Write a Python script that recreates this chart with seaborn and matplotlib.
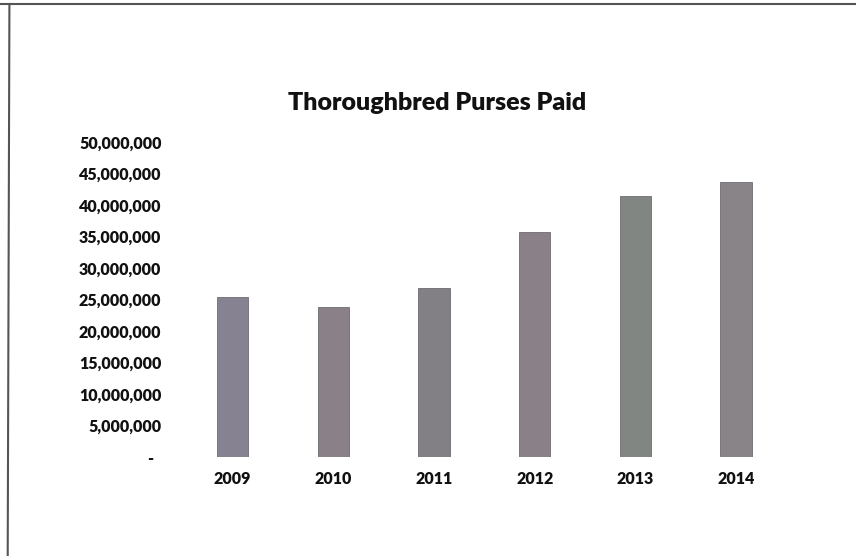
import matplotlib
matplotlib.use("Agg")
import matplotlib.pyplot as plt
import matplotlib.ticker as mticker
from matplotlib.lines import Line2D
import pandas as pd
import seaborn as sns

# values
years = ["2009", "2010", "2011", "2012", "2013", "2014"]
purses = [25350000, 23860000, 26870000, 35760000, 41430000, 43600000]
bar_colors = ["#857f93", "#8b7f88", "#827f86", "#8a8088", "#818781", "#8a8389"]

df = pd.DataFrame({"year": years, "purses": purses})

sns.set_style("white")
plt.rcParams["font.family"] = ["Lato", "DejaVu Sans"]

fig = plt.figure(figsize=(8.56, 5.56), dpi=100)
ax = fig.add_axes([0.213, 0.178, 0.7057, 0.5666])

sns.barplot(data=df, x="year", y="purses", hue="year", palette=bar_colors,
            width=0.31, edgecolor="#6e6a72", linewidth=0.6, legend=False, ax=ax)

ax.set_ylim(0, 50000000)
ax.set_xlim(-0.5, 5.5)
ax.yaxis.set_major_locator(mticker.MultipleLocator(5000000))
ax.yaxis.set_major_formatter(
    mticker.FuncFormatter(lambda v, p: "-  " if v == 0 else f"{v:,.0f}"))
ax.tick_params(axis="y", length=0, pad=15, labelsize=11.5)
ax.tick_params(axis="x", length=0, pad=10, labelsize=11.5)
for lab in ax.get_xticklabels() + ax.get_yticklabels():
    lab.set_fontweight("heavy")
    lab.set_color("#111111")
ax.set_xlabel("")
ax.set_ylabel("")
sns.despine(ax=ax, left=True, bottom=True)

fig.text(0.5105, 0.8147, "Thoroughbred Purses Paid", ha="center", va="center",
         fontsize=18, fontweight="heavy", color="#111111")

# scan frame on the top and left edges
fig.add_artist(Line2D([0, 1], [0.993, 0.993], color="#555555", lw=1.5))
fig.add_artist(Line2D([0.009, 0.011], [0, 0.993], color="#555555", lw=1.5))

fig.savefig("out.png", dpi=100)
